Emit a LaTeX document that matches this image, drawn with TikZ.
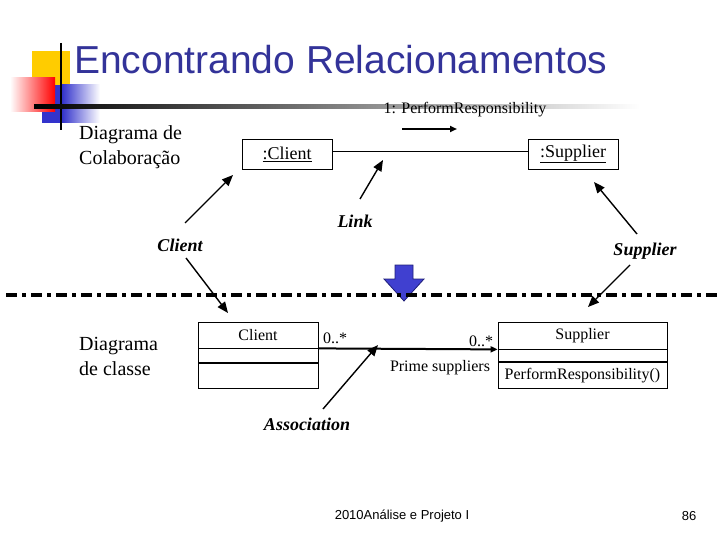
\documentclass[tikz,border=0pt]{standalone}
\usepackage{fontspec}
\setmainfont{Liberation Serif}
\newfontfamily\headfont{Liberation Sans}
\usepackage{xcolor}
\usepackage{tikz}
\usetikzlibrary{positioning,arrows.meta}
\definecolor{titleblue}{RGB}{51,51,153}
\definecolor{decoyellow}{RGB}{255,204,0}
\definecolor{decoblue}{RGB}{51,51,204}
\definecolor{arrowfill}{RGB}{64,64,208}
\definecolor{arrowedge}{RGB}{30,30,120}

\begin{document}
\begin{tikzpicture}[x=1pt,y=-1pt,>=Stealth,every node/.style={inner sep=0pt}]
\tikzstyle{obj}=[draw,line width=0.8pt,minimum width=90pt,minimum height=30pt,font=\fontsize{18}{20}\selectfont]
\tikzstyle{cls}=[draw,line width=0.8pt,font=\fontsize{16}{18}\selectfont]
\tikzstyle{lbl}=[font=\fontsize{18}{20}\selectfont\bfseries\itshape]
\tikzstyle{txt}=[font=\fontsize{16}{18}\selectfont]
\tikzstyle{ptr}=[line width=1.4pt,-{Triangle[length=11pt,width=9pt]}]
\useasboundingbox (0,0) rectangle (720,540);
% title decoration
\fill[decoyellow] (32,51) rectangle (70,85);
\fill[decoblue] (42,85) rectangle (62,123);
\shade[left color=decoblue,right color=white] (62,85) rectangle (100,123);
\shade[left color=white,right color=red] (10,78) rectangle (55,112);
\draw[line width=2.5pt] (61,43) -- (61,130);
\shade[left color=black,middle color=black!40,right color=white] (34,105) rectangle (640,109);
\node[anchor=base west,font=\headfont\fontsize{39}{43}\selectfont,text=titleblue] (title) at (74,74) {Encontrando Relacionamentos};

% collaboration diagram
\node[anchor=west,align=left,font=\fontsize{20}{25}\selectfont] (collab) at (79,147) {Diagrama de\\Colabora\c{c}\~ao};
\node[obj] (objclient) at (287,154) {\underline{:Client}};
\node[obj] (objsupplier) at (573,154) {\underline{:Supplier}};
\draw[line width=0.8pt] ([yshift=3pt]objclient.east) -- ([yshift=3pt]objsupplier.west);
\node[txt] (msg) at (465,110) {1: PerformResponsibility};
\coordinate (msgstart) at (402,129);
\coordinate (msgend) at (457,129);
\draw[line width=2.2pt,-{Triangle[length=7pt,width=6pt]}] (msgstart) -- (msgend);

% labels and pointers
\node[lbl] (lbllink) at (355,221) {Link};
\node[lbl] (lblclient) at (180,245) {Client};
\node[lbl] (lblsupplier) at (645,251) {Supplier};
\node[lbl] (lblassoc) at (307,424) {Association};
\coordinate (t1) at (185,223); \coordinate (h1) at (233,175);
\coordinate (t2) at (360,199); \coordinate (h2) at (383,160);
\coordinate (t3) at (637,234); \coordinate (h3) at (594,182);
\coordinate (t4) at (186,258); \coordinate (h4) at (228,313);
\coordinate (t5) at (630,265); \coordinate (h5) at (588,307);
\coordinate (t6) at (323,409); \coordinate (h6) at (378,345);
\draw[ptr] (t1) -- (h1);
\draw[ptr] (t2) -- (h2);
\draw[ptr] (t3) -- (h3);
\draw[ptr] (t4) -- (h4);
\draw[ptr] (t5) -- (h5);
\draw[ptr] (t6) -- (h6);

% transformation arrow and separator
\draw[arrowedge,fill=arrowfill,line width=0.8pt] (395,265) -- (413,265) -- (413,279) -- (424,279) -- (404,301) -- (384,279) -- (395,279) -- cycle;
\coordinate (sepleft) at (6,295);
\coordinate (sepright) at (720,295);
\draw[line width=3.5pt,dash pattern=on 11pt off 5pt on 4pt off 5pt] (sepleft) -- (sepright);

% class diagram
\node[anchor=west,align=left,font=\fontsize{20}{25}\selectfont] (classdiag) at (79,356) {Diagrama\\de classe};
\node[cls,minimum width=120pt,minimum height=26pt] (clsclient) at (258,335) {Client};
\node[cls,minimum width=120pt,minimum height=14pt,below=0pt of clsclient] (clsclientattr) {};
\node[cls,minimum width=120pt,minimum height=25pt,below=0pt of clsclientattr] (clsclientops) {};
\node[cls,minimum width=169pt,minimum height=27pt] (clssupplier) at (582.5,335.5) {Supplier};
\node[cls,minimum width=169pt,minimum height=12pt,below=0pt of clssupplier] (clssupplierattr) {};
\node[cls,minimum width=169pt,minimum height=26pt,below=0pt of clssupplierattr] (clssupplierops) {PerformResponsibility()};
\draw[line width=2pt,-{Triangle[length=7pt,width=6pt]}] (clsclient.south east) -- (clssupplier.south west);
\node[txt] (multleft) at (335,338) {0..*};
\node[txt] (multright) at (481,341) {0..*};
\node[txt] (role) at (440,368) {Prime suppliers};

% footer
\node[font=\headfont\fontsize{13}{15}\selectfont] (footer) at (402,516) {2010An\'alise e Projeto I};
\node[font=\headfont\fontsize{13}{15}\selectfont] (pagenum) at (689,516) {86};
\end{tikzpicture}
\end{document}
